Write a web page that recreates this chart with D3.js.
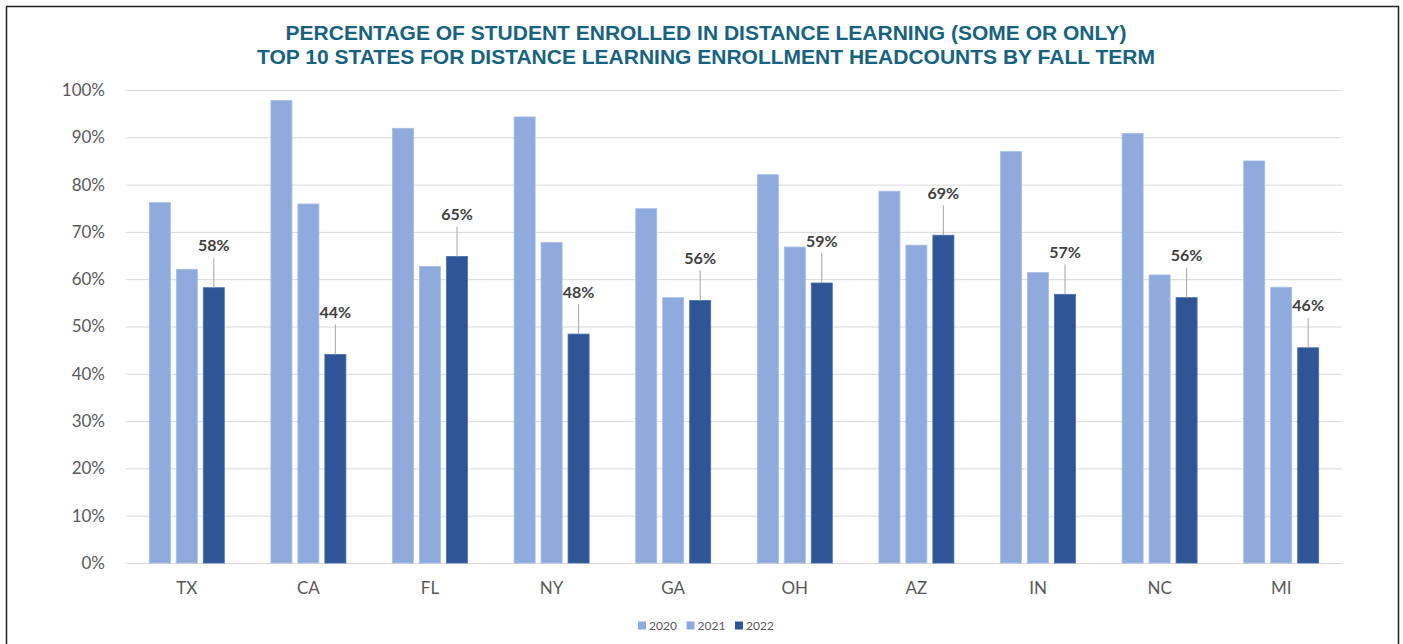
<!DOCTYPE html>
<html>
<head>
<meta charset="utf-8">
<script src="https://cdn.jsdelivr.net/npm/d3@7"></script>
<style>
  body { margin: 0; background: #fff; }
  svg { display: block; }
</style>
</head>
<body>
<div id="chart"></div>
<script>
//data
const states = ["TX", "CA", "FL", "NY", "GA", "OH", "AZ", "IN", "NC", "MI"];
const years = ["2020", "2021", "2022"];
const pct2020 = [76.2, 97.8, 91.9, 94.3, 74.9, 82.1, 78.6, 87.0, 90.8, 85.0];
const pct2021 = [62.1, 75.9, 62.7, 67.8, 56.1, 66.8, 67.2, 61.4, 60.9, 58.3];
const pct2022 = [58.2, 44.1, 64.8, 48.4, 55.5, 59.2, 69.3, 56.8, 56.1, 45.5];
const yTicks = [0, 10, 20, 30, 40, 50, 60, 70, 80, 90, 100];
const titleLines = [
  "PERCENTAGE OF STUDENT ENROLLED IN DISTANCE LEARNING (SOME OR ONLY)",
  "TOP 10 STATES FOR DISTANCE LEARNING ENROLLMENT HEADCOUNTS BY FALL TERM"
];

const seriesValues = { "2020": pct2020, "2021": pct2021, "2022": pct2022 };
const colors = { "2020": "#8FAADC", "2021": "#8FAADC", "2022": "#2F5597" };

//size
const width = 1403, height = 644;
const margin = { top: 90, right: 61, bottom: 81, left: 126 };
const innerWidth = width - margin.left - margin.right;
const innerHeight = height - margin.top - margin.bottom;

const svg = d3.select("#chart").append("svg")
  .attr("width", width)
  .attr("height", height);

//frame (bottom edge lies below the picture)
svg.append("path")
  .attr("d", "M6.5,644 V6.5 H1398.5 V644")
  .attr("fill", "none")
  .attr("stroke", "#222")
  .attr("stroke-width", 1.5);

//title
svg.append("g")
  .selectAll("text")
  .data(titleLines)
  .join("text")
  .attr("x", 706)
  .attr("y", (d, i) => 39.5 + i * 24)
  .attr("text-anchor", "middle")
  .attr("font-family", "'Liberation Sans', Arial, sans-serif")
  .attr("font-weight", "bold")
  .attr("font-size", 21)
  .attr("fill", "#17637F")
  .text((d) => d);

//scale
const xScale = d3.scaleBand().domain(states).range([0, innerWidth]);
const groupW = 75;
const x1 = d3.scaleBand().domain(years)
  .range([xScale.bandwidth() / 2 - groupW / 2, xScale.bandwidth() / 2 + groupW / 2])
  .paddingInner(0.22);
const yScale = d3.scaleLinear().domain([0, 100]).range([innerHeight, 0]);

const g = svg.append("g").attr("transform", `translate(${margin.left},${margin.top})`);

//grid
g.append("g")
  .selectAll("line")
  .data(yTicks)
  .join("line")
  .attr("x1", 0).attr("x2", innerWidth)
  .attr("y1", (d) => yScale(d) + 0.5).attr("y2", (d) => yScale(d) + 0.5)
  .attr("stroke", "#D9D9D9")
  .attr("stroke-width", 1);

//y-axis
const yAxis = g.append("g")
  .call(d3.axisLeft(yScale).tickValues(yTicks).tickFormat((d) => d + "%").tickSize(0).tickPadding(21));
yAxis.select(".domain").remove();
yAxis.selectAll("text")
  .attr("font-family", "Lato, 'Open Sans', sans-serif")
  .attr("font-size", 17)
  .attr("fill", "#595959");

//x-axis
const xAxis = g.append("g")
  .attr("transform", `translate(0,${innerHeight})`)
  .call(d3.axisBottom(xScale).tickSize(0).tickPadding(19));
xAxis.select(".domain").remove();
xAxis.selectAll("text")
  .attr("font-family", "Lato, 'Open Sans', sans-serif")
  .attr("font-size", 17)
  .attr("fill", "#595959");

//mark
const rows = states.map((s, i) => ({
  state: s,
  bars: years.map((y) => ({ state: s, year: y, value: seriesValues[y][i] }))
}));

const groups = g.append("g").attr("class", "mark")
  .selectAll("g")
  .data(rows)
  .join("g")
  .attr("transform", (d) => `translate(${xScale(d.state)},0)`);

groups.selectAll("rect")
  .data((d) => d.bars)
  .join("rect")
  .attr("x", (d) => x1(d.year))
  .attr("y", (d) => yScale(d.value))
  .attr("width", x1.bandwidth())
  .attr("height", (d) => innerHeight - yScale(d.value))
  .attr("fill", (d) => colors[d.year])
  .attr("stroke", (d) => d.year === "2022" ? "#4A6FAF" : "#A9BEE6")
  .attr("stroke-width", 0.8);

//labels for 2022
const labelOffset = 42;
const last = groups.append("g").datum((d) => d.bars[2]);
last.append("line")
  .attr("x1", (d) => x1(d.year) + x1.bandwidth() / 2)
  .attr("x2", (d) => x1(d.year) + x1.bandwidth() / 2)
  .attr("y1", (d) => yScale(d.value) - labelOffset + 12)
  .attr("y2", (d) => yScale(d.value))
  .attr("stroke", "#A6A6A6")
  .attr("stroke-width", 1);
last.append("text")
  .attr("x", (d) => x1(d.year) + x1.bandwidth() / 2)
  .attr("y", (d) => yScale(d.value) - labelOffset)
  .attr("dy", "0.35em")
  .attr("text-anchor", "middle")
  .attr("font-family", "Lato, 'Open Sans', sans-serif")
  .attr("font-weight", "bold")
  .attr("font-size", 16)
  .attr("fill", "#404040")
  .text((d) => Math.round(d.value) + "%");

//legend
const legend = svg.append("g").attr("transform", "translate(638,626)");
const legendItems = legend.selectAll("g")
  .data(years)
  .join("g")
  .attr("transform", (d, i) => `translate(${i * 48.5},0)`);
legendItems.append("rect")
  .attr("x", 0).attr("y", -4.5)
  .attr("width", 8).attr("height", 8)
  .attr("fill", (d) => colors[d]);
legendItems.append("text")
  .attr("x", 11).attr("y", 0)
  .attr("dy", "0.35em")
  .attr("font-family", "Lato, 'Open Sans', sans-serif")
  .attr("font-size", 12)
  .attr("fill", "#595959")
  .text((d) => d);
</script>
</body>
</html>
